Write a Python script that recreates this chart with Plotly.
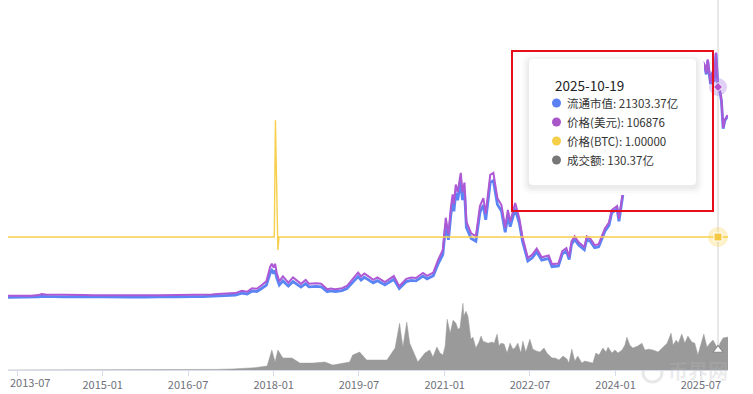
import plotly.graph_objects as go

# ---------------- DATA ----------------
dates = [
    '2013-04-28', '2013-06-01', '2013-08-01', '2013-10-01', '2013-11-15', '2013-12-05',
    '2014-01-01', '2014-02-01', '2014-03-01', '2014-05-01', '2014-07-01', '2014-09-01', '2014-11-01',
    '2015-01-01', '2015-02-01', '2015-04-01', '2015-07-01', '2015-10-01', '2015-11-05',
    '2016-01-01', '2016-04-01', '2016-06-15', '2016-08-01', '2016-10-01', '2016-12-01',
    '2017-01-05', '2017-03-01', '2017-05-01', '2017-06-10', '2017-07-15', '2017-08-15', '2017-09-15',
    '2017-10-15', '2017-11-15', '2017-12-10', '2017-12-20',
    '2018-01-01', '2018-01-10', '2018-01-20', '2018-02-06', '2018-03-01', '2018-04-05', '2018-05-05',
    '2018-06-25', '2018-07-25', '2018-08-15', '2018-10-01', '2018-11-01', '2018-12-10',
    '2019-01-01', '2019-02-01', '2019-03-15', '2019-04-15', '2019-05-15', '2019-06-26', '2019-07-15',
    '2019-08-05', '2019-09-01', '2019-10-01', '2019-10-28', '2019-12-15',
    '2020-02-10', '2020-03-16', '2020-04-30', '2020-06-01', '2020-07-01', '2020-08-15', '2020-09-10',
    '2020-10-20', '2020-11-20', '2020-12-20',
    '2021-01-08', '2021-01-25', '2021-02-10', '2021-02-21', '2021-03-01', '2021-03-13', '2021-03-25',
    '2021-04-14', '2021-04-25', '2021-05-08', '2021-05-20', '2021-06-20', '2021-07-20', '2021-08-15',
    '2021-09-06', '2021-09-21', '2021-10-20', '2021-11-09', '2021-12-05', '2021-12-31',
    '2022-01-24', '2022-02-10', '2022-02-25', '2022-03-29', '2022-04-25', '2022-05-15', '2022-06-18',
    '2022-07-15', '2022-08-14', '2022-09-15', '2022-10-30', '2022-11-20', '2022-12-31',
    '2023-01-25', '2023-02-20', '2023-03-10', '2023-03-25', '2023-04-14', '2023-05-10', '2023-06-15',
    '2023-07-01', '2023-07-25', '2023-08-20', '2023-09-15', '2023-10-25', '2023-11-20', '2023-12-08',
    '2024-01-11', '2024-01-23', '2024-02-15', '2024-03-13', '2024-04-15', '2024-05-01', '2024-05-21',
    '2024-07-05', '2024-07-28', '2024-08-05', '2024-09-06', '2024-10-29', '2024-11-22', '2024-12-17',
    '2025-01-20', '2025-02-28', '2025-04-08', '2025-05-22', '2025-06-22', '2025-07-14', '2025-07-26',
    '2025-08-05', '2025-08-14', '2025-09-01', '2025-09-15', '2025-09-25', '2025-10-06', '2025-10-19',
    '2025-11-03', '2025-11-10', '2025-11-21', '2025-12-01', '2025-12-20',
]

price_usd = [
    135, 120, 100, 130, 450, 1000,
    800, 800, 600, 450, 630, 480, 340,
    300, 220, 240, 260, 240, 400,
    430, 420, 700, 600, 610, 750,
    1000, 1200, 1500, 2700, 2200, 4000, 3700, 5500, 7500, 15000, 16500,
    14500, 16500, 12000, 7500, 10000, 6800, 9500, 6200, 8200, 6300, 6500, 6300, 3400,
    3800, 3500, 4000, 5100, 7900, 12000, 10000, 11500, 10000, 8300, 9500, 7100,
    10200, 5000, 8800, 9500, 9200, 11800, 10300, 12000, 18500, 23500,
    40000, 31500, 45500, 52000, 47000, 57000, 53000, 63000, 53000, 58000, 38000, 32000, 30500, 46000,
    50000, 42000, 62000, 63000, 50000, 46500,
    35000, 44000, 38000, 47500, 39500, 30000, 19500, 21000, 24300, 19800, 20700, 16300, 16600,
    23000, 24500, 20000, 28000, 30500, 27500, 25000, 30500, 29200, 26000, 26500, 34500, 37500, 44000,
    46000, 39500, 52000, 72000, 63000, 58000, 70000, 56000, 68000, 54000, 54000, 72000, 98000, 106000,
    105000, 84000, 76500, 111000, 101000, 120000, 118000, 114000, 121000, 109000, 115000, 110000,
    124500, 106876, 104000, 100000, 86000, 90000, 92500,
]

market_cap_yi = [
    15.0, 13.4, 11.5, 15.3, 54.0, 120.5,
    97.6, 98.4, 74.7, 57.2, 81.6, 63.4, 45.6,
    41.1, 30.4, 33.6, 37.2, 35.2, 59.2,
    64.7, 64.7, 109.9, 94.8, 97.0, 120.4,
    161, 194.4, 244.5, 442.8, 361.9, 660, 614.2, 914.1, 1252.5, 2512.5, 2767.1,
    2436, 2772, 2018.4, 1263.8, 1690, 1153.3, 1616.9, 1060.2, 1407.9, 1083.6, 1124.5, 1093.1, 592.3,
    663.9, 613.2, 704, 900.2, 1398.3, 2133.6, 1781, 2052.8, 1790, 1490.7, 1710, 1285.1,
    1856.4, 914, 1615.7, 1748, 1695.6, 2178.3, 1904.5, 2223.6, 3431.8, 4366.3,
    7440, 5862, 8477, 9693, 8766, 10636, 9895, 11775, 9911, 10852, 7114, 5997, 5722, 8643,
    9405, 7904, 11687, 11888, 9450, 8798,
    6629, 8342, 7209, 9025, 7513, 5712, 3719, 4009, 4646, 3792, 3972, 3131, 3196,
    4432, 4729, 3862, 5412, 5902, 5327, 4853, 5923, 5677, 5060, 5165, 6734, 7331, 8611,
    9016, 7746, 10208, 14155, 12405, 11426, 13797, 11049, 13423, 10660, 10665, 14242, 19394, 20988,
    20811, 16666, 15193, 22056, 20079, 23868, 23482, 22686, 24085, 21702, 22908, 21918,
    24813, 21303.37, 20738, 19945, 17157, 17960, 18463,
]

btc_dates = ['2013-04-28', '2018-01-05', '2018-01-12', '2018-01-28', '2018-02-04', '2025-12-22']
price_btc = [1.0, 1.0, 2.98, 0.78, 1.0, 1.0]

vol_dates = [
    '2013-04-28', '2016-01-01', '2016-06-25', '2017-01-01', '2017-04-15', '2017-09-01', '2017-11-20',
    '2017-12-20', '2018-01-10', '2018-01-28', '2018-03-01', '2018-04-28', '2018-06-18', '2018-09-10',
    '2018-11-25', '2019-01-15', '2019-05-03', '2019-05-22', '2019-07-06', '2019-08-20', '2019-10-24',
    '2019-12-28', '2020-02-18', '2020-03-18', '2020-04-08', '2020-05-03', '2020-05-22', '2020-07-13',
    '2020-08-27', '2020-09-27', '2020-10-18', '2020-11-12',
    '2020-12-02', '2020-12-21', '2021-01-04', '2021-01-17', '2021-02-05', '2021-02-24', '2021-03-14',
    '2021-03-27', '2021-04-09', '2021-04-28', '2021-05-04', '2021-05-17', '2021-05-30', '2021-06-18',
    '2021-07-01', '2021-07-20', '2021-08-09', '2021-08-22', '2021-09-04', '2021-10-06', '2021-11-01',
    '2021-11-14', '2021-12-03', '2021-12-15', '2021-12-28', '2022-01-17', '2022-02-05', '2022-02-24',
    '2022-03-14', '2022-03-27', '2022-04-15', '2022-05-04', '2022-05-17', '2022-06-05', '2022-07-01',
    '2022-07-20', '2022-08-15', '2022-09-04', '2022-09-30', '2022-10-18', '2022-11-20', '2022-12-09',
    '2023-01-04', '2023-01-30', '2023-02-24', '2023-03-08', '2023-03-27', '2023-04-15', '2023-05-04',
    '2023-05-30', '2023-06-18', '2023-07-14', '2023-08-09', '2023-08-28', '2023-09-17', '2023-10-12',
    '2023-11-01', '2023-11-14', '2023-12-09', '2023-12-28', '2024-01-17', '2024-02-12', '2024-03-01',
    '2024-03-14', '2024-04-02', '2024-04-21', '2024-05-23', '2024-06-18', '2024-07-07', '2024-08-02',
    '2024-08-28', '2024-09-30', '2024-11-01', '2024-11-27', '2024-12-22', '2025-01-04', '2025-01-24',
    '2025-02-06', '2025-03-01', '2025-03-20', '2025-04-09', '2025-05-04', '2025-05-23', '2025-06-12',
    '2025-07-20', '2025-08-09', '2025-08-28', '2025-09-17', '2025-10-12', '2025-10-19', '2025-11-01',
    '2025-11-20', '2025-12-15', '2025-12-22',
]
volume_yi = [
    0, 0, 2, 4, 7, 15, 26,
    130, 52, 130, 78, 78, 45, 45,
    52, 32, 52, 97, 117, 65, 65,
    65, 143, 305, 149, 312, 175, 52,
    110, 130, 84, 150,
    110, 97, 156, 331, 240, 325, 305,
    266, 273, 435, 351, 383, 351, 201,
    214, 143, 182, 221, 188, 175, 182,
    175, 234, 156, 175, 169, 110, 175,
    136, 143, 175, 110, 188, 117, 201,
    136, 123, 117, 143, 110, 78, 78,
    65, 91, 71, 45, 136, 58, 91,
    45, 58, 52, 45, 110, 97, 143,
    117, 149, 110, 130, 110, 130, 162,
    214, 162, 143, 156, 175, 130, 136,
    130, 117, 149, 175, 240, 162, 195,
    175, 234, 175, 221, 182, 175, 97,
    234, 149, 175, 195, 149, 130.37, 175,
    208, 214, 214,
]

tick_dates = ['2013-07-01', '2015-01-01', '2016-07-01', '2018-01-01', '2019-07-01',
              '2021-01-01', '2022-07-01', '2024-01-01', '2025-07-01']
tick_labels = ['2013-07', '2015-01', '2016-07', '2018-01', '2019-07',
               '2021-01', '2022-07', '2024-01', '2025-07']

hover_date = '2025-10-19'
hover_cap = 21303.37
hover_price = 106876
hover_btc = 1.0
hover_vol = 130.37
series_names = ['流通市值', '价格(美元)', '价格(BTC)', '成交额']
tooltip_values = ['21303.37亿', '106876', '1.00000', '130.37亿']

assert len(dates) == len(price_usd) == len(market_cap_yi)
assert len(vol_dates) == len(volume_yi)

# ---------------- STYLE / LAYOUT ----------------
W, H = 753, 394
L, R, T, B = 8, 25, 0, 24
PW, PH = W - L - R, H - T - B
FONT = 'Noto Sans CJK SC, Noto Sans, sans-serif'

C_BLUE = '#5b84f4'
C_PURPLE = '#ad58d4'
C_YELLOW = '#f7cf4d'
C_GRAY = '#9a9a9a'
DOT_COLORS = ['#5b80f2', '#a956c9', '#f6cf48', '#777777']
TICK_COLOR = '#6e7079'


def px(x):
    return (x - L) / PW


def py(y):
    return (T + PH - y) / PH


def axis_range(v0, p0, v1, p1):
    s = (v1 - v0) / (p1 - p0)
    return [v0 + s * (T + PH - p0), v0 + s * (T - p0)]


def rrect(x0, y0, x1, y1, r):
    pts = [('M', x0 + r, y0), ('L', x1 - r, y0), ('Q', x1, y0, x1, y0 + r),
           ('L', x1, y1 - r), ('Q', x1, y1, x1 - r, y1), ('L', x0 + r, y1),
           ('Q', x0, y1, x0, y1 - r), ('L', x0, y0 + r), ('Q', x0, y0, x0 + r, y0)]
    out = []
    for p in pts:
        cmd = p[0]
        coords = p[1:]
        seg = []
        for i in range(0, len(coords), 2):
            seg.append(f'{px(coords[i]):.5f},{py(coords[i + 1]):.5f}')
        out.append(cmd + ' '.join(seg))
    return ' '.join(out) + ' Z'


fig = go.Figure()

fig.add_trace(go.Scatter(x=dates, y=market_cap_yi, mode='lines', name=series_names[0],
                         line=dict(color=C_BLUE, width=2.8), yaxis='y'))
fig.add_trace(go.Scatter(x=dates, y=price_usd, mode='lines', name=series_names[1],
                         line=dict(color=C_PURPLE, width=2), yaxis='y2'))
fig.add_trace(go.Scatter(x=[hover_date], y=[hover_price], mode='markers', yaxis='y2',
                         marker=dict(size=18, color='rgba(165,125,230,0.35)', line=dict(width=0))))
fig.add_trace(go.Scatter(x=[hover_date], y=[hover_price], mode='markers', yaxis='y2',
                         marker=dict(size=7, symbol='diamond', color='#b14fcc',
                                     line=dict(color='white', width=1))))
fig.add_trace(go.Scatter(x=btc_dates, y=price_btc, mode='lines', name=series_names[2],
                         line=dict(color=C_YELLOW, width=1.4), yaxis='y3'))
fig.add_trace(go.Scatter(x=[hover_date], y=[hover_btc], mode='markers', yaxis='y3',
                         marker=dict(size=20, color='rgba(247,207,77,0.3)', line=dict(width=0))))
fig.add_trace(go.Scatter(x=[hover_date], y=[hover_btc], mode='markers', yaxis='y3',
                         marker=dict(size=8, symbol='square', color='#f5c842',
                                     line=dict(color='white', width=1))))
fig.add_trace(go.Scatter(x=vol_dates, y=volume_yi, mode='lines', name=series_names[3],
                         fill='tozeroy', fillcolor=C_GRAY, line=dict(color=C_GRAY, width=0.5),
                         yaxis='y4'))
fig.add_trace(go.Scatter(x=[hover_date], y=[hover_vol], mode='markers', yaxis='y4',
                         marker=dict(size=9, symbol='triangle-up', color='white',
                                     line=dict(color='#888888', width=1.2))))

hidden = dict(visible=False, showgrid=False, zeroline=False, fixedrange=True)

shapes = []
shapes.append(dict(type='line', xref='x', yref='paper', x0=hover_date, x1=hover_date,
                   y0=0, y1=1, line=dict(color='#d0d0d0', width=1), layer='below'))
shapes.append(dict(type='circle', xref='paper', yref='paper', x0=px(643), x1=px(662),
                   y0=py(382), y1=py(363), line=dict(color='rgba(180,180,180,0.3)', width=3),
                   layer='below'))
bx0, by0, bx1, by1 = 529, 59, 696, 185
for grow, col in [(8, '#fdfdfd'), (6, '#f9f9f9'), (4, '#f3f3f3'), (2, '#ececec')]:
    shapes.append(dict(type='path', xref='paper', yref='paper',
                       path=rrect(bx0 - grow, by0 - grow + 2, bx1 + grow, by1 + grow + 2, 4 + grow),
                       fillcolor=col, line=dict(width=0), layer='above'))
shapes.append(dict(type='path', xref='paper', yref='paper', path=rrect(bx0, by0, bx1, by1, 4),
                   fillcolor='white', line=dict(width=0), layer='above'))
shapes.append(dict(type='rect', xref='paper', yref='paper', x0=px(512), x1=px(713),
                   y0=py(211), y1=py(51), line=dict(color='#e60f19', width=2),
                   fillcolor='rgba(0,0,0,0)', layer='above'))

annotations = []
annotations.append(dict(xref='paper', yref='paper', x=px(553), y=py(85), text=hover_date,
                        showarrow=False, xanchor='left', yanchor='middle',
                        font=dict(family=FONT, size=13.5, color='#222222')))
row_y = [103, 122, 141, 160]
for i, (nm, val) in enumerate(zip(series_names, tooltip_values)):
    shapes.append(dict(type='circle', xref='paper', yref='paper', xsizemode='pixel',
                       ysizemode='pixel', xanchor=px(556.5), yanchor=py(row_y[i]),
                       x0=-4.5, x1=4.5, y0=-4.5, y1=4.5, fillcolor=DOT_COLORS[i],
                       line=dict(width=0), layer='above'))
    annotations.append(dict(xref='paper', yref='paper', x=px(565), y=py(row_y[i]),
                            text=f'{nm}: {val}', showarrow=False, xanchor='left',
                            yanchor='middle', font=dict(family=FONT, size=11.5, color='#333333')))
# first tick label is nudged right so it fits inside the chart (like the original)
annotations.append(dict(xref='paper', yref='paper', x=px(8), y=py(381.5), text=tick_labels[0],
                        showarrow=False, xanchor='left', yanchor='middle',
                        font=dict(family=FONT, size=11, color=TICK_COLOR)))
annotations.append(dict(xref='paper', yref='paper', x=px(666), y=py(370), text='<b>币界网</b>',
                        showarrow=False, xanchor='left', yanchor='middle',
                        font=dict(family=FONT, size=20, color='rgba(185,185,185,0.28)')))

fig.update_layout(
    width=W, height=H,
    margin=dict(l=L, r=R, t=T, b=B, autoexpand=False),
    paper_bgcolor='white', plot_bgcolor='white',
    showlegend=False,
    font=dict(family=FONT),
    xaxis=dict(type='date', range=['2013-05-04', '2025-12-22'],
               tickvals=tick_dates, ticktext=[''] + tick_labels[1:],
               showgrid=False, zeroline=False, showline=True, linecolor='#d6dde9', linewidth=1,
               ticks='outside', ticklen=5, tickcolor='#d6dde9',
               tickfont=dict(family=FONT, size=11, color=TICK_COLOR), fixedrange=True),
    yaxis=dict(range=axis_range(0, 297.5, hover_cap, 88), **hidden),
    yaxis2=dict(range=axis_range(0, 296, hover_price, 87), overlaying='y', **hidden),
    yaxis3=dict(range=axis_range(0, 296, hover_btc, 237), overlaying='y', **hidden),
    yaxis4=dict(range=axis_range(0, 370, hover_vol, 350), overlaying='y', **hidden),
    shapes=shapes,
    annotations=annotations,
)

fig.write_html('out.html', config={'displayModeBar': False},
               post_script="document.body.style.margin='0';document.body.style.padding='0';")
